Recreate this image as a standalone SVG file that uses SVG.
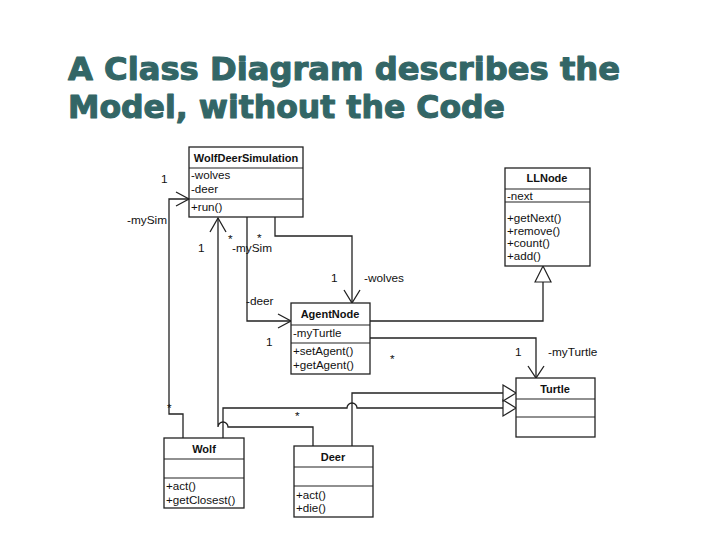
<svg xmlns="http://www.w3.org/2000/svg" width="720" height="540" viewBox="0 0 720 540">
<style>
.title{font-family:"DejaVu Sans","Liberation Sans",sans-serif;font-weight:bold;font-size:32px;fill:#336666;stroke:#336666;stroke-width:1.1;stroke-linejoin:round}
.box{fill:#fff;stroke:#222;stroke-width:1.3}
.div{stroke:#222;stroke-width:1.1}
.cn{font-family:"Liberation Sans",Arial,sans-serif;font-weight:bold;font-size:11px;fill:#111;text-anchor:middle}
.m{font-family:"Liberation Sans",Arial,sans-serif;font-size:11.6px;fill:#111}
.lbl{font-family:"Liberation Sans",Arial,sans-serif;font-size:11.8px;fill:#111}
.ln{fill:none;stroke:#222;stroke-width:1.3}
.tri{fill:#fff;stroke:#222;stroke-width:1.2}
</style>
<rect width="720" height="540" fill="#fff"/>
<text class="title" x="68" y="80" textLength="552" lengthAdjust="spacingAndGlyphs">A Class Diagram describes the</text>
<text class="title" x="68" y="118" textLength="437" lengthAdjust="spacingAndGlyphs">Model, without the Code</text>

<g id="connectors">
  <!-- Wolf -mySim to WolfDeerSimulation -->
  <path class="ln" d="M183,438 V414 H169 V199 H189"/>
  <path class="ln" d="M176,192 L189,199 L176,206"/>
  <!-- Deer -mySim to WolfDeerSimulation -->
  <path class="ln" d="M313,446 V427 H228 A5,5 0 0 0 218,427 V218"/>
  <path class="ln" d="M210,232 L218,218 L226,232"/>
  <!-- WolfDeerSimulation -deer to AgentNode -->
  <path class="ln" d="M247,217 V321 H291"/>
  <path class="ln" d="M278,314 L291,321 L278,328"/>
  <!-- WolfDeerSimulation -wolves to AgentNode -->
  <path class="ln" d="M275,217 V236 H352 V303"/>
  <path class="ln" d="M344,290 L352,303 L360,290"/>
  <!-- AgentNode generalization to LLNode -->
  <path class="ln" d="M370,321 H543 V282"/>
  <polygon class="tri" points="535,282 543,266 551,282"/>
  <!-- AgentNode -myTurtle to Turtle -->
  <path class="ln" d="M370,338 H536 V378"/>
  <path class="ln" d="M528,366 L536,378 L544,366"/>
  <!-- Wolf generalization to Turtle -->
  <path class="ln" d="M223,438 V408 H347 A5,5 0 0 1 357,408 H503"/>
  <polygon class="tri" points="503,400 516,408 503,416"/>
  <!-- Deer generalization to Turtle -->
  <path class="ln" d="M352,446 V393 H503"/>
  <polygon class="tri" points="503,385 516,393 503,401"/>
</g>

<g id="labels">
  <text class="lbl" x="161" y="183">1</text>
  <text class="lbl" x="127" y="224">-mySim</text>
  <text class="lbl" x="198" y="252">1</text>
  <text class="lbl" x="228" y="243">*</text>
  <text class="lbl" x="232" y="252">-mySim</text>
  <text class="lbl" x="257" y="241.5">*</text>
  <text class="lbl" x="331" y="282">1</text>
  <text class="lbl" x="364" y="282">-wolves</text>
  <text class="lbl" x="246" y="305">-deer</text>
  <text class="lbl" x="266" y="346">1</text>
  <text class="lbl" x="390" y="363">*</text>
  <text class="lbl" x="515" y="356">1</text>
  <text class="lbl" x="548" y="356">-myTurtle</text>
  <text class="lbl" x="167" y="412">*</text>
  <text class="lbl" x="295" y="420">*</text>
</g>

<g id="WolfDeerSimulation">
  <rect class="box" x="189" y="147" width="114" height="70"/>
  <line class="div" x1="189" y1="168" x2="303" y2="168"/>
  <line class="div" x1="189" y1="199" x2="303" y2="199"/>
  <text class="cn" x="246" y="162">WolfDeerSimulation</text>
  <text class="m" x="191" y="179">-wolves</text>
  <text class="m" x="191" y="193">-deer</text>
  <text class="m" x="191" y="211">+run()</text>
</g>

<g id="LLNode">
  <rect class="box" x="505" y="168" width="85" height="98"/>
  <line class="div" x1="505" y1="189" x2="590" y2="189"/>
  <line class="div" x1="505" y1="202" x2="590" y2="202"/>
  <text class="cn" x="547" y="182">LLNode</text>
  <text class="m" x="507" y="200">-next</text>
  <text class="m" x="507" y="222">+getNext()</text>
  <text class="m" x="507" y="234.5">+remove()</text>
  <text class="m" x="507" y="247">+count()</text>
  <text class="m" x="507" y="259.5">+add()</text>
</g>

<g id="AgentNode">
  <rect class="box" x="291" y="303" width="79" height="71"/>
  <line class="div" x1="291" y1="325" x2="370" y2="325"/>
  <line class="div" x1="291" y1="343" x2="370" y2="343"/>
  <text class="cn" x="330" y="318">AgentNode</text>
  <text class="m" x="293" y="337">-myTurtle</text>
  <text class="m" x="293" y="355">+setAgent()</text>
  <text class="m" x="293" y="369">+getAgent()</text>
</g>

<g id="Turtle">
  <rect class="box" x="516" y="378" width="79" height="59"/>
  <line class="div" x1="516" y1="399" x2="595" y2="399"/>
  <line class="div" x1="516" y1="417" x2="595" y2="417"/>
  <text class="cn" x="555" y="393">Turtle</text>
</g>

<g id="Wolf">
  <rect class="box" x="164" y="438" width="80" height="70"/>
  <line class="div" x1="164" y1="459" x2="244" y2="459"/>
  <line class="div" x1="164" y1="478" x2="244" y2="478"/>
  <text class="cn" x="204" y="453">Wolf</text>
  <text class="m" x="166" y="490">+act()</text>
  <text class="m" x="166" y="504">+getClosest()</text>
</g>

<g id="Deer">
  <rect class="box" x="294" y="446" width="79" height="71"/>
  <line class="div" x1="294" y1="467" x2="373" y2="467"/>
  <line class="div" x1="294" y1="486" x2="373" y2="486"/>
  <text class="cn" x="333" y="461">Deer</text>
  <text class="m" x="296" y="499">+act()</text>
  <text class="m" x="296" y="512">+die()</text>
</g>
</svg>
